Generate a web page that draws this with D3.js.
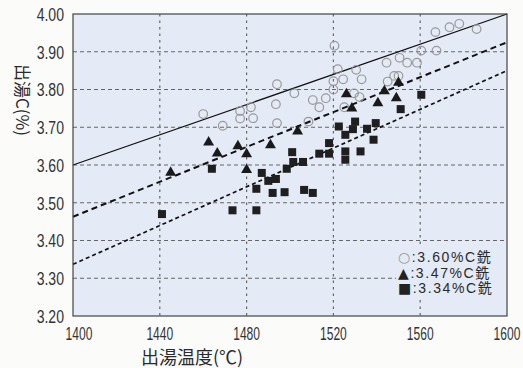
<!DOCTYPE html>
<html>
<head>
<meta charset="utf-8">
<script src="https://cdn.jsdelivr.net/npm/d3@7"></script>
<style>
  html, body { margin: 0; padding: 0; background: #fbfbfa; }
  svg { display: block; }
  .tick-label { font-family: "Liberation Sans", "DejaVu Sans", sans-serif; fill: #333; }
  .cjk { font-family: "Noto Sans CJK JP", sans-serif; fill: #2a2a2a; }
  .legend { font-family: "Liberation Sans", "Noto Sans CJK JP", sans-serif; fill: #2a2a2a; }
</style>
</head>
<body>
<svg id="chart" width="523" height="368"></svg>
<script>
// Tapping temperature (°C) vs tapping carbon (%) for three pig-iron grades
const xTicks = [1400, 1440, 1480, 1520, 1560, 1600];
const yTicks = [3.20, 3.30, 3.40, 3.50, 3.60, 3.70, 3.80, 3.90, 4.00];

// ○ 3.60%C pig iron
const circleT = [1460, 1469, 1477, 1482, 1477, 1483, 1494, 1493.5, 1494, 1502, 1508.5, 1510.5, 1513.5, 1516.5,
  1520, 1520, 1520.5, 1522, 1524.5, 1525, 1529.5, 1530.5, 1532, 1533, 1544.5, 1545, 1548, 1550, 1550.5,
  1554, 1558.5, 1560.5, 1567.5, 1567, 1573.5, 1578, 1586];
const circleC = [3.735, 3.704, 3.743, 3.753, 3.723, 3.724, 3.814, 3.761, 3.711, 3.790, 3.715, 3.772, 3.753, 3.777,
  3.800, 3.822, 3.916, 3.854, 3.827, 3.753, 3.790, 3.852, 3.780, 3.827, 3.871, 3.821, 3.836, 3.836, 3.884,
  3.871, 3.871, 3.903, 3.903, 3.952, 3.965, 3.974, 3.960];

// ▲ 3.47%C pig iron
const triT = [1445, 1462.5, 1466.5, 1476, 1480, 1480, 1491, 1503.5, 1526, 1528.5, 1540.5, 1543.5, 1549, 1550];
const triC = [3.580, 3.660, 3.631, 3.650, 3.629, 3.587, 3.653, 3.689, 3.788, 3.750, 3.764, 3.796, 3.777, 3.818];

// ■ 3.34%C pig iron
const sqT = [1441, 1464, 1473.5, 1484.5, 1484.5, 1487, 1490, 1493.5, 1492, 1497.5, 1498.5, 1501, 1501.5, 1506,
  1506.5, 1510.5, 1513.5, 1518, 1518, 1522.5, 1525.5, 1525.5, 1525.5, 1529, 1530, 1532.5, 1535.5, 1539.5,
  1538.5, 1551, 1560.5];
const sqC = [3.470, 3.590, 3.480, 3.480, 3.537, 3.579, 3.558, 3.563, 3.526, 3.528, 3.590, 3.634, 3.608, 3.608,
  3.534, 3.526, 3.630, 3.630, 3.658, 3.702, 3.680, 3.636, 3.614, 3.695, 3.715, 3.636, 3.696, 3.711,
  3.667, 3.748, 3.786];

// Trend lines: carbon at 1400 and 1600 °C
const lineT = [1400, 1600];
const line360 = [3.600, 4.000];
const line347 = [3.463, 3.925];
const line334 = [3.337, 3.850];

const legendLabels = ["3.60%C銑", "3.47%C銑", "3.34%C銑"];
const legendSymbols = ["○", "▲", "■"];

const svg = d3.select("#chart");
const x = d3.scaleLinear().domain([1400, 1600]).range([73, 507]);
const y = d3.scaleLinear().domain([3.20, 4.00]).range([316, 14]);

// plot background
svg.append("rect")
  .attr("x", x(1400)).attr("y", y(4.00))
  .attr("width", x(1600) - x(1400)).attr("height", y(3.20) - y(4.00))
  .attr("fill", "#e4eaf6");

// grid
const grid = svg.append("g");
grid.selectAll("line.h").data(yTicks.filter(v => v > 3.2 && v < 4.0)).join("line")
  .attr("x1", x(1400)).attr("x2", x(1600))
  .attr("y1", d => y(d)).attr("y2", d => y(d))
  .attr("stroke", "#666").attr("stroke-width", 1).attr("stroke-dasharray", "4,3");
grid.selectAll("line.v").data(xTicks.filter(v => v > 1400 && v < 1600)).join("line")
  .attr("y1", y(4.00)).attr("y2", y(3.20))
  .attr("x1", d => x(d)).attr("x2", d => x(d))
  .attr("stroke", "#666").attr("stroke-width", 1.2).attr("stroke-dasharray", "2.5,4");

// trend lines
const trend = [
  { c: line360, w: 1.3, dash: null },
  { c: line347, w: 2.0, dash: "6,4" },
  { c: line334, w: 1.7, dash: "4,3" }
];
trend.forEach(t => {
  svg.append("line")
    .attr("x1", x(lineT[0])).attr("y1", y(t.c[0]))
    .attr("x2", x(lineT[1])).attr("y2", y(t.c[1]))
    .attr("stroke", "#111").attr("stroke-width", t.w)
    .attr("stroke-dasharray", t.dash);
});

// markers
const circles = circleT.map((t, i) => [t, circleC[i]]);
const tris = triT.map((t, i) => [t, triC[i]]);
const squares = sqT.map((t, i) => [t, sqC[i]]);

svg.append("g").selectAll("circle").data(circles).join("circle")
  .attr("cx", d => x(d[0])).attr("cy", d => y(d[1])).attr("r", 4.3)
  .attr("fill", "none").attr("stroke", "#999").attr("stroke-width", 1.2);

const triSym = d3.symbol().type(d3.symbolTriangle).size(52);
svg.append("g").selectAll("path").data(tris).join("path")
  .attr("d", triSym)
  .attr("transform", d => `translate(${x(d[0])},${y(d[1])})`)
  .attr("fill", "#1a1a1a");

svg.append("g").selectAll("rect").data(squares).join("rect")
  .attr("x", d => x(d[0]) - 4).attr("y", d => y(d[1]) - 4)
  .attr("width", 8).attr("height", 8)
  .attr("fill", "#1f1f1f");

// frame
svg.append("rect")
  .attr("x", x(1400)).attr("y", y(4.00))
  .attr("width", x(1600) - x(1400)).attr("height", y(3.20) - y(4.00))
  .attr("fill", "none").attr("stroke", "#444").attr("stroke-width", 1.2);

// legend: symbol glyph + label on each row
const lg = svg.append("g");
lg.append("rect").attr("x", 396).attr("y", 248).attr("width", 108).attr("height", 48)
  .attr("fill", "#e4eaf6");
legendLabels.forEach((lab, i) => {
  const t = lg.append("text").attr("class", "legend")
    .attr("x", 398).attr("y", 262 + i * 15.5)
    .attr("font-size", 14).attr("letter-spacing", 1.6);
  t.append("tspan").attr("fill", i === 0 ? "#999" : "#222")
    .attr("font-family", "DejaVu Sans").attr("font-size", 14).text(legendSymbols[i]);
  t.append("tspan").text(":" + lab);
});

// y tick labels (condensed)
svg.append("g").selectAll("text").data(yTicks).join("text")
  .attr("class", "tick-label")
  .attr("transform", d => `translate(64,${y(d)}) scale(0.74,1)`)
  .attr("dy", "0.36em")
  .attr("text-anchor", "end").attr("font-size", 19)
  .text(d => d3.format(".2f")(d));

// x tick labels (condensed)
svg.append("g").selectAll("text").data(xTicks).join("text")
  .attr("class", "tick-label")
  .attr("transform", d => `translate(${x(d) + (d === 1400 ? 6 : 0)},340) scale(0.67,1)`)
  .attr("text-anchor", "middle").attr("font-size", 18)
  .text(d => d);

// axis titles
svg.append("text").attr("class", "cjk")
  .attr("x", 192).attr("y", 364).attr("text-anchor", "middle")
  .attr("font-size", 18).text("出湯温度(℃)");

svg.append("text").attr("class", "cjk")
  .attr("transform", "translate(16,100) rotate(90)")
  .attr("text-anchor", "middle")
  .attr("font-size", 17).text("出湯C(%)");
</script>
</body>
</html>
